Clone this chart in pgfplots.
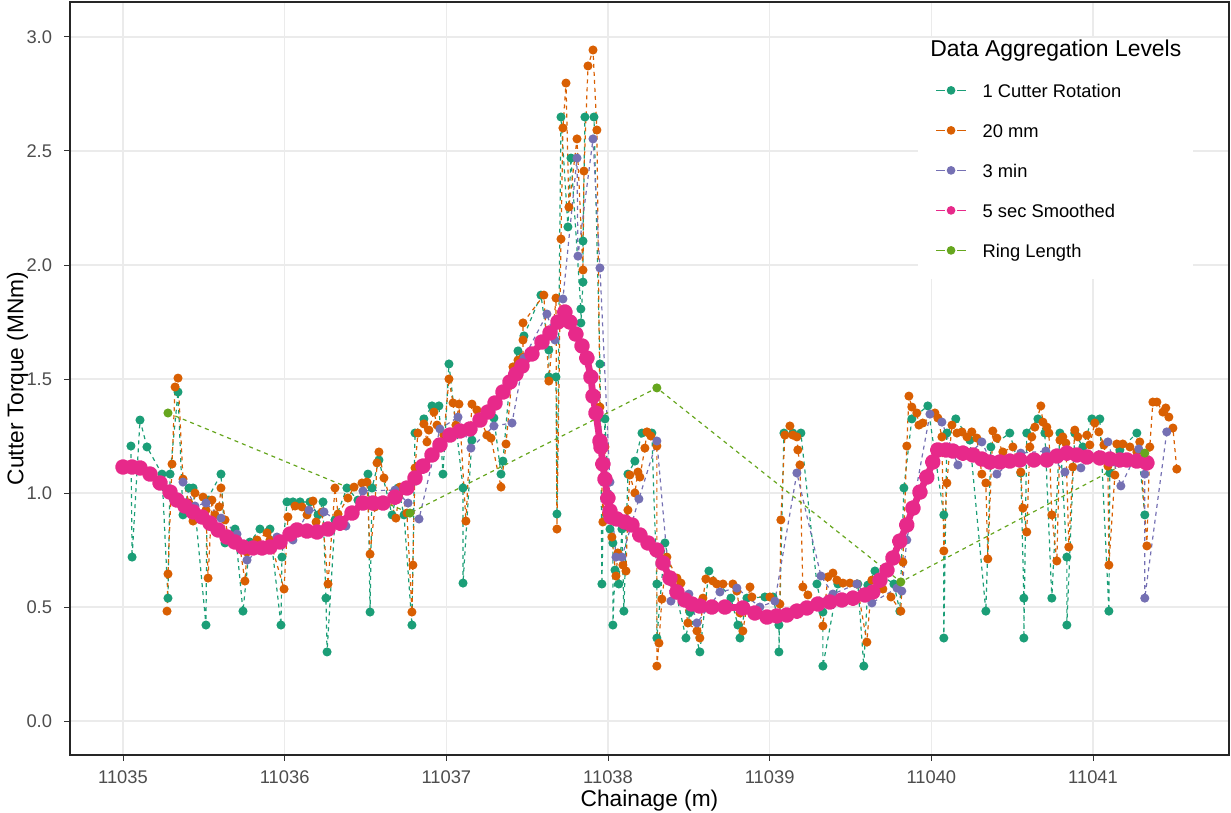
\documentclass[border=0pt]{standalone}
\usepackage{pgfplots}
\pgfplotsset{compat=1.18}
\usepackage{fontspec}
\setmainfont{Liberation Sans}
\definecolor{cA}{HTML}{1B9E77}
\definecolor{cB}{HTML}{D95F02}
\definecolor{cC}{HTML}{7570B3}
\definecolor{cD}{HTML}{E7298A}
\definecolor{cE}{HTML}{66A61E}
\definecolor{tickgray}{HTML}{4D4D4D}
\definecolor{gridgray}{HTML}{EBEBEB}
\begin{document}
\begin{tikzpicture}
\begin{axis}[
  name=ax,
  scale only axis, width=579.5bp, height=376.5bp,
  xmin=11034.672, xmax=11041.841, ymin=-0.149, ymax=3.1535,
  scaled x ticks=false, scaled y ticks=false,
  xtick={11035,11036,11037,11038,11039,11040,11041},
  xticklabels={11035,11036,11037,11038,11039,11040,11041},
  ytick={0,0.5,1,1.5,2,2.5,3},
  yticklabels={0.0,0.5,1.0,1.5,2.0,2.5,3.0},
  tick align=outside, tick pos=left,
  major tick length=2.8bp,
  tick style={color=black!80, line width=0.5bp},
  grid=major, major grid style={color=gridgray, line width=0.55bp},
  axis line style={black!85, line width=0.6bp},
  ticklabel style={font=\fontsize{9.2}{11}\selectfont, color=tickgray},
  xticklabel style={anchor=north, inner sep=0pt, yshift=-5bp},
  yticklabel style={anchor=east, inner sep=0pt, xshift=-6bp},
  xlabel={Chainage (m)}, ylabel={Cutter Torque (MNm)},
  label style={font=\fontsize{11.4}{13}\selectfont, color=black, inner sep=0pt},
  xlabel style={at={([yshift=-25.5bp]rel axis cs:0.5,0)}, anchor=base},
  ylabel style={at={([xshift=-23.3bp]rel axis cs:0,0.5)}, anchor=base},
  legend style={at={(rel axis cs:0.7317,0.9097)}, anchor=north west, fill=none, draw=none,
    inner xsep=8.5bp, inner ysep=6.65bp, row sep=13.3bp, column sep=8bp,
    font=\fontsize{9.2}{11}\selectfont, nodes={inner sep=0pt, text height=6.7bp, text depth=0pt}},
  legend cell align=left,
  legend image code/.code={\draw[mark repeat=2,mark phase=2,#1] plot coordinates {(0bp,0bp) (7.5bp,0bp) (15bp,0bp)};},
]
% 1 Cutter Rotation
\addplot[cA, line width=0.6bp, dash pattern=on 2bp off 2bp, mark=*, mark size=1.95bp, mark options={solid, draw=none, fill=cA}, forget plot] coordinates {
(11035.049,1.206)(11035.056,0.719)(11035.105,1.320)(11035.148,1.202)(11035.241,1.083)(11035.278,0.539)(11035.291,1.083)(11035.340,1.443)(11035.371,0.904)(11035.408,1.022)(11035.433,1.022)(11035.513,0.421)(11035.519,0.969)(11035.606,1.083)(11035.631,0.781)(11035.693,0.842)(11035.742,0.482)(11035.785,0.785)(11035.847,0.842)(11035.909,0.842)(11035.977,0.421)(11035.983,0.719)(11036.014,0.961)(11036.051,0.961)(11036.095,0.961)(11036.156,0.961)(11036.206,0.904)(11036.237,0.961)(11036.255,0.539)(11036.262,0.303)(11036.311,0.882)(11036.385,1.022)(11036.453,0.969)(11036.515,1.083)(11036.528,0.478)(11036.540,1.022)(11036.583,1.145)(11036.664,0.904)(11036.701,1.022)(11036.738,0.904)(11036.787,0.421)(11036.806,1.263)(11036.861,1.325)(11036.911,1.382)(11036.954,1.382)(11036.979,1.083)(11037.016,1.566)(11037.103,1.022)(11037.103,0.605)(11037.158,1.232)(11037.195,1.329)(11037.294,1.329)(11037.338,1.083)(11037.350,1.140)(11037.393,1.496)(11037.443,1.623)(11037.480,1.689)(11037.585,1.868)(11037.634,1.627)(11037.634,1.509)(11037.678,1.509)(11037.684,0.908)(11037.709,2.649)(11037.752,2.167)(11037.771,2.469)(11037.832,1.807)(11037.832,1.746)(11037.845,1.925)(11037.845,2.105)(11037.857,2.649)(11037.913,2.649)(11037.950,1.566)(11037.956,1.202)(11037.962,0.601)(11037.981,1.325)(11038.012,0.842)(11038.030,0.781)(11038.030,0.421)(11038.043,0.662)(11038.067,0.601)(11038.086,0.842)(11038.098,0.482)(11038.123,1.083)(11038.166,1.140)(11038.210,1.263)(11038.271,1.263)(11038.302,0.601)(11038.302,0.364)(11038.352,0.781)(11038.482,0.364)(11038.506,0.478)(11038.568,0.303)(11038.624,0.658)(11038.760,0.539)(11038.803,0.421)(11038.816,0.364)(11038.859,0.539)(11038.970,0.544)(11039.020,0.544)(11039.057,0.421)(11039.057,0.303)(11039.088,1.263)(11039.143,1.263)(11039.193,1.263)(11039.292,0.601)(11039.329,0.478)(11039.329,0.241)(11039.422,0.601)(11039.545,0.601)(11039.582,0.241)(11039.607,0.596)(11039.651,0.658)(11039.768,0.601)(11039.805,0.482)(11039.830,1.022)(11039.879,1.325)(11039.978,1.382)(11040.077,0.904)(11040.077,0.364)(11040.096,1.263)(11040.151,1.325)(11040.238,1.232)(11040.337,0.482)(11040.368,1.202)(11040.485,1.263)(11040.553,1.088)(11040.572,0.539)(11040.572,0.364)(11040.590,1.263)(11040.659,1.325)(11040.702,1.263)(11040.745,0.539)(11040.795,1.263)(11040.838,0.719)(11040.838,0.421)(11040.887,1.263)(11040.937,1.202)(11040.993,1.325)(11041.042,1.325)(11041.098,0.482)(11041.104,1.088)(11041.166,1.189)(11041.271,1.263)(11041.320,0.904)
};
% 20 mm
\addplot[cB, line width=0.6bp, dash pattern=on 2bp off 2bp, mark=*, mark size=1.95bp, mark options={solid, draw=none, fill=cB}, forget plot] coordinates {
(11035.272,0.482)(11035.278,0.645)(11035.303,1.127)(11035.322,1.465)(11035.340,1.504)(11035.371,1.061)(11035.408,0.956)(11035.433,0.877)(11035.445,1.000)(11035.495,0.982)(11035.513,0.925)(11035.526,0.627)(11035.550,0.969)(11035.569,0.904)(11035.594,0.939)(11035.606,1.022)(11035.631,0.882)(11035.649,0.816)(11035.724,0.759)(11035.754,0.614)(11035.767,0.741)(11035.829,0.794)(11035.891,0.825)(11035.909,0.794)(11035.996,0.579)(11036.020,0.895)(11036.064,0.943)(11036.107,0.939)(11036.138,0.904)(11036.175,0.965)(11036.194,0.873)(11036.231,0.917)(11036.268,0.601)(11036.311,1.022)(11036.330,0.908)(11036.391,0.978)(11036.429,1.026)(11036.478,1.044)(11036.509,1.048)(11036.528,0.732)(11036.558,0.939)(11036.571,1.132)(11036.583,1.180)(11036.614,1.066)(11036.688,0.890)(11036.713,1.026)(11036.756,0.912)(11036.787,0.478)(11036.793,0.684)(11036.806,1.110)(11036.824,1.263)(11036.861,1.303)(11036.880,1.224)(11036.892,1.276)(11036.923,1.355)(11036.942,1.298)(11036.985,1.254)(11037.016,1.500)(11037.041,1.395)(11037.059,1.298)(11037.078,1.390)(11037.121,0.877)(11037.158,1.390)(11037.189,1.364)(11037.251,1.254)(11037.276,1.241)(11037.338,1.026)(11037.369,1.215)(11037.412,1.553)(11037.443,1.583)(11037.474,1.596)(11037.474,1.671)(11037.474,1.746)(11037.603,1.868)(11037.634,1.491)(11037.678,1.855)(11037.684,0.842)(11037.709,2.114)(11037.721,2.601)(11037.740,2.798)(11037.758,2.254)(11037.808,2.553)(11037.845,1.978)(11037.851,2.412)(11037.876,2.873)(11037.907,2.943)(11037.931,2.592)(11037.950,1.377)(11037.968,0.873)(11037.981,1.202)(11038.024,0.807)(11038.049,0.636)(11038.061,0.737)(11038.092,0.684)(11038.111,0.658)(11038.123,0.925)(11038.135,1.079)(11038.166,1.000)(11038.185,1.092)(11038.197,1.070)(11038.228,1.197)(11038.241,1.268)(11038.265,1.250)(11038.302,1.206)(11038.302,0.241)(11038.315,0.342)(11038.333,0.535)(11038.364,0.719)(11038.426,0.627)(11038.451,0.605)(11038.494,0.430)(11038.550,0.395)(11038.568,0.364)(11038.587,0.539)(11038.605,0.623)(11038.649,0.614)(11038.673,0.601)(11038.711,0.601)(11038.772,0.601)(11038.797,0.570)(11038.816,0.474)(11038.834,0.395)(11038.878,0.588)(11038.890,0.544)(11039.001,0.544)(11039.063,0.513)(11039.069,0.882)(11039.094,1.254)(11039.125,1.294)(11039.143,1.254)(11039.168,1.246)(11039.174,1.189)(11039.187,1.123)(11039.205,0.588)(11039.236,0.553)(11039.292,0.518)(11039.329,0.417)(11039.360,0.632)(11039.391,0.649)(11039.416,0.618)(11039.453,0.605)(11039.496,0.605)(11039.539,0.601)(11039.601,0.346)(11039.632,0.618)(11039.700,0.579)(11039.750,0.544)(11039.811,0.482)(11039.824,0.697)(11039.848,1.206)(11039.861,1.425)(11039.879,1.377)(11039.910,1.351)(11039.923,1.298)(11039.947,1.307)(11040.022,1.351)(11040.040,1.329)(11040.065,1.246)(11040.077,0.746)(11040.096,1.044)(11040.127,1.298)(11040.158,1.263)(11040.189,1.268)(11040.220,1.246)(11040.250,1.268)(11040.281,1.241)(11040.312,1.083)(11040.337,1.044)(11040.349,0.711)(11040.380,1.272)(11040.405,1.241)(11040.442,1.180)(11040.504,1.202)(11040.553,1.092)(11040.566,0.934)(11040.590,0.829)(11040.609,1.202)(11040.621,1.246)(11040.640,1.289)(11040.677,1.382)(11040.690,1.311)(11040.714,1.289)(11040.727,1.263)(11040.745,0.904)(11040.776,0.702)(11040.795,1.232)(11040.813,1.246)(11040.832,1.219)(11040.850,0.763)(11040.875,1.114)(11040.887,1.276)(11040.906,1.246)(11040.962,1.254)(11040.980,1.211)(11041.011,1.307)(11041.036,1.268)(11041.067,1.211)(11041.092,1.118)(11041.098,0.684)(11041.135,1.079)(11041.147,1.215)(11041.184,1.215)(11041.228,1.202)(11041.271,1.180)(11041.289,1.224)(11041.333,0.768)(11041.351,1.202)(11041.370,1.399)(11041.395,1.399)(11041.432,1.355)(11041.450,1.373)(11041.469,1.333)(11041.494,1.285)(11041.518,1.105)
};
% 3 min
\addplot[cC, line width=0.6bp, dash pattern=on 2bp off 2bp, mark=*, mark size=1.95bp, mark options={solid, draw=none, fill=cC}, forget plot] coordinates {
(11035.371,1.048)(11035.445,0.943)(11035.513,0.956)(11035.606,0.890)(11035.705,0.820)(11035.767,0.706)(11035.952,0.807)(11036.051,0.794)(11036.150,0.925)(11036.243,0.917)(11036.379,0.855)(11036.484,1.009)(11036.682,1.013)(11036.763,0.956)(11036.831,0.886)(11036.960,1.281)(11037.072,1.333)(11037.152,1.197)(11037.294,1.294)(11037.406,1.307)(11037.480,1.592)(11037.622,1.785)(11037.672,1.671)(11037.721,1.851)(11037.808,2.469)(11037.814,2.039)(11037.907,2.553)(11037.950,1.987)(11038.012,1.048)(11038.049,0.719)(11038.086,0.719)(11038.191,0.974)(11038.302,1.228)(11038.389,0.526)(11038.500,0.557)(11038.550,0.430)(11038.692,0.566)(11038.797,0.583)(11038.939,0.500)(11039.032,0.526)(11039.168,1.088)(11039.317,0.636)(11039.391,0.557)(11039.539,0.601)(11039.632,0.518)(11039.787,0.583)(11039.817,0.570)(11039.848,0.794)(11039.991,1.346)(11040.065,1.311)(11040.164,1.123)(11040.312,1.224)(11040.405,1.083)(11040.553,1.175)(11040.708,1.184)(11040.826,1.092)(11040.925,1.110)(11041.092,1.224)(11041.172,1.031)(11041.283,1.193)(11041.320,1.083)(11041.320,0.539)(11041.456,1.268)
};
% 5 sec Smoothed
\addplot[cD, line width=3.4bp, line join=round, line cap=round, mark=*, mark size=2.25bp, mark options={solid, draw=none, fill=cD}, forget plot] coordinates {
(11035.000,1.114)(11035.056,1.114)(11035.105,1.110)(11035.167,1.083)(11035.229,1.044)(11035.291,1.004)(11035.334,0.969)(11035.383,0.943)(11035.433,0.917)(11035.489,0.895)(11035.538,0.868)(11035.588,0.838)(11035.643,0.807)(11035.693,0.785)(11035.742,0.763)(11035.804,0.759)(11035.860,0.759)(11035.909,0.763)(11035.971,0.785)(11036.033,0.820)(11036.076,0.838)(11036.138,0.833)(11036.200,0.829)(11036.268,0.842)(11036.342,0.868)(11036.416,0.912)(11036.484,0.956)(11036.546,0.956)(11036.608,0.956)(11036.682,0.982)(11036.756,1.022)(11036.806,1.066)(11036.855,1.118)(11036.911,1.167)(11036.960,1.211)(11037.022,1.254)(11037.084,1.272)(11037.146,1.281)(11037.208,1.320)(11037.257,1.355)(11037.301,1.395)(11037.350,1.443)(11037.393,1.487)(11037.430,1.522)(11037.468,1.557)(11037.529,1.610)(11037.591,1.662)(11037.641,1.702)(11037.690,1.750)(11037.733,1.794)(11037.764,1.750)(11037.801,1.697)(11037.839,1.645)(11037.869,1.592)(11037.894,1.509)(11037.907,1.425)(11037.925,1.351)(11037.950,1.228)(11037.956,1.202)(11037.968,1.127)(11037.981,1.061)(11037.999,0.978)(11038.012,0.921)(11038.018,0.895)(11038.055,0.886)(11038.104,0.873)(11038.148,0.860)(11038.197,0.816)(11038.247,0.781)(11038.302,0.750)(11038.340,0.693)(11038.383,0.627)(11038.426,0.566)(11038.476,0.531)(11038.519,0.513)(11038.568,0.504)(11038.642,0.500)(11038.723,0.500)(11038.834,0.496)(11038.908,0.474)(11038.983,0.456)(11039.044,0.461)(11039.106,0.465)(11039.168,0.482)(11039.230,0.496)(11039.298,0.513)(11039.372,0.522)(11039.446,0.531)(11039.515,0.539)(11039.589,0.553)(11039.638,0.566)(11039.682,0.618)(11039.725,0.662)(11039.762,0.715)(11039.805,0.789)(11039.848,0.860)(11039.886,0.934)(11039.929,1.004)(11039.972,1.070)(11040.009,1.136)(11040.040,1.189)(11040.090,1.189)(11040.133,1.184)(11040.195,1.175)(11040.257,1.167)(11040.312,1.149)(11040.362,1.136)(11040.424,1.136)(11040.485,1.140)(11040.547,1.145)(11040.634,1.145)(11040.714,1.145)(11040.776,1.162)(11040.838,1.175)(11040.900,1.167)(11040.962,1.158)(11041.042,1.154)(11041.104,1.149)(11041.166,1.145)(11041.209,1.145)(11041.271,1.140)(11041.333,1.132)
};
% Ring Length
\addplot[cE, line width=0.6bp, dash pattern=on 2bp off 2bp, mark=*, mark size=1.95bp, mark options={solid, draw=none, fill=cE}, forget plot] coordinates {
(11035.278,1.351)(11036.775,0.912)(11038.302,1.461)(11039.811,0.610)(11041.320,1.175)
};
% legend background and title
\fill[white] (rel axis cs:0.7317,0.9522) rectangle (rel axis cs:0.9689,0.6321);
\node[anchor=base west, inner sep=0pt, font=\fontsize{11.5}{13}\selectfont] at (rel axis cs:0.7420,0.9270) {Data Aggregation Levels};
\addlegendimage{cA, line width=0.6bp, dash pattern=on 4.5bp off 6bp, mark=*, mark size=1.85bp, mark options={solid, draw=none, fill=cA}}
\addlegendentry{1 Cutter Rotation}
\addlegendimage{cB, line width=0.6bp, dash pattern=on 4.5bp off 6bp, mark=*, mark size=1.85bp, mark options={solid, draw=none, fill=cB}}
\addlegendentry{20 mm}
\addlegendimage{cC, line width=0.6bp, dash pattern=on 4.5bp off 6bp, mark=*, mark size=1.85bp, mark options={solid, draw=none, fill=cC}}
\addlegendentry{3 min}
\addlegendimage{cD, line width=0.6bp, dash pattern=on 4.5bp off 6bp, mark=*, mark size=1.85bp, mark options={solid, draw=none, fill=cD}}
\addlegendentry{5 sec Smoothed}
\addlegendimage{cE, line width=0.6bp, dash pattern=on 4.5bp off 6bp, mark=*, mark size=1.85bp, mark options={solid, draw=none, fill=cE}}
\addlegendentry{Ring Length}
\end{axis}
\pgfresetboundingbox
\path (ax.south west) ++(-35bp,-29bp) coordinate (bbA);
\path (ax.north east) ++(1bp,1bp) coordinate (bbB);
\useasboundingbox (bbA) rectangle (bbB);
\end{tikzpicture}
\end{document}
